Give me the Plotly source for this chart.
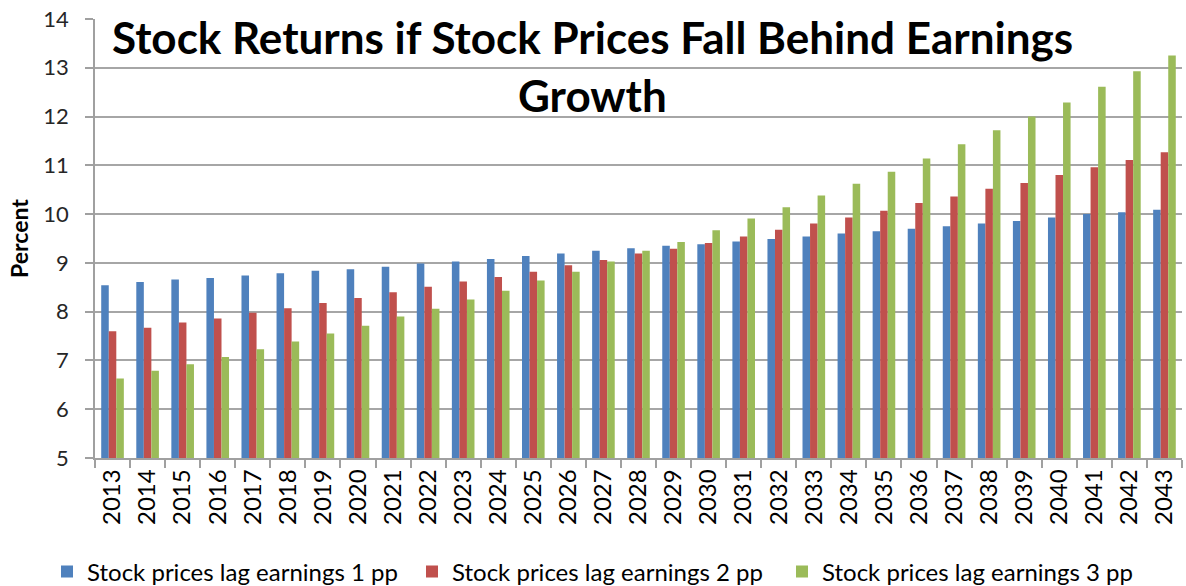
import plotly.graph_objects as go

years = [str(y) for y in range(2013, 2044)]
lag1 = [8.54, 8.61, 8.66, 8.69, 8.74, 8.79, 8.84, 8.87, 8.92, 8.99, 9.03, 9.08, 9.14, 9.19, 9.25, 9.30,
        9.35, 9.38, 9.44, 9.49, 9.54, 9.60, 9.65, 9.70, 9.75, 9.81, 9.86, 9.93, 10.00, 10.04, 10.09]
lag2 = [7.60, 7.67, 7.78, 7.86, 7.98, 8.07, 8.18, 8.28, 8.40, 8.51, 8.62, 8.71, 8.82, 8.95, 9.06, 9.19,
        9.29, 9.41, 9.54, 9.68, 9.81, 9.93, 10.07, 10.23, 10.36, 10.52, 10.64, 10.80, 10.96, 11.11, 11.27]
lag3 = [6.63, 6.79, 6.92, 7.07, 7.23, 7.39, 7.55, 7.71, 7.90, 8.06, 8.25, 8.43, 8.64, 8.82, 9.03, 9.25,
        9.43, 9.67, 9.91, 10.14, 10.38, 10.62, 10.87, 11.14, 11.43, 11.72, 12.00, 12.29, 12.61, 12.93, 13.25]
series_names = ["Stock prices lag earnings 1 pp", "Stock prices lag earnings 2 pp", "Stock prices lag earnings 3 pp"]
colors = ["#4F81BD", "#C0504D", "#9BBB59"]
title_line1 = "Stock Returns if Stock Prices Fall Behind Earnings"
title_line2 = "Growth"

FONT = "Lato"
W, H = 1186, 586
legend_ids = ["legend", "legend2", "legend3"]
legend_left_px = [47, 412, 782]

fig = go.Figure()
for name, vals, col, lid in zip(series_names, [lag1, lag2, lag3], colors, legend_ids):
    fig.add_trace(go.Bar(x=years, y=vals, name=name, legend=lid,
                         marker=dict(color=col, line=dict(width=0))))

legend_common = dict(orientation="h", xref="container", xanchor="left",
                     yref="container", y=14 / H, yanchor="middle",
                     font=dict(size=24, family=FONT), itemwidth=30, bgcolor="rgba(0,0,0,0)")
legends = {}
for lid, lx in zip(legend_ids, legend_left_px):
    legends[lid] = dict(legend_common, x=lx / W)

fig.update_layout(
    width=W, height=H,
    margin=dict(l=95, r=4, t=19, b=128, autoexpand=False),
    paper_bgcolor="white", plot_bgcolor="white",
    barmode="group", bargap=0.355, bargroupgap=0,
    font=dict(family=FONT, color="black"),
    showlegend=True,
    xaxis=dict(type="category", showgrid=False, showline=True, linecolor="#A0A0A0", linewidth=1.5,
               ticks="outside", tickson="boundaries", ticklen=8, tickcolor="#A0A0A0", tickwidth=1.5,
               tickangle=-90, tickfont=dict(size=24, family=FONT, color="black")),
    yaxis=dict(range=[5, 14], dtick=1, showgrid=True, gridcolor="#A6A6A6", gridwidth=1.5,
               showline=True, linecolor="#A0A0A0", linewidth=1.5, zeroline=False,
               ticks="outside", ticklen=8, tickcolor="#A0A0A0", tickwidth=1.5,
               ticklabelstandoff=12,
               tickfont=dict(size=22, family=FONT, color="#262626"),
               title=dict(text="<b>Percent</b>", font=dict(size=23, family=FONT), standoff=8)),
    annotations=[
        dict(text="<b>" + title_line1 + "</b>", xref="paper", yref="paper", x=0.458, y=0.958,
             xanchor="center", yanchor="middle", showarrow=False, font=dict(size=44, family=FONT)),
        dict(text="<b>" + title_line2 + "</b>", xref="paper", yref="paper", x=0.458, y=0.827,
             xanchor="center", yanchor="middle", showarrow=False, font=dict(size=44, family=FONT)),
    ],
    **legends,
)

fig.write_html("out.html", config={"displayModeBar": False},
               post_script="document.body.style.margin='0px';")
